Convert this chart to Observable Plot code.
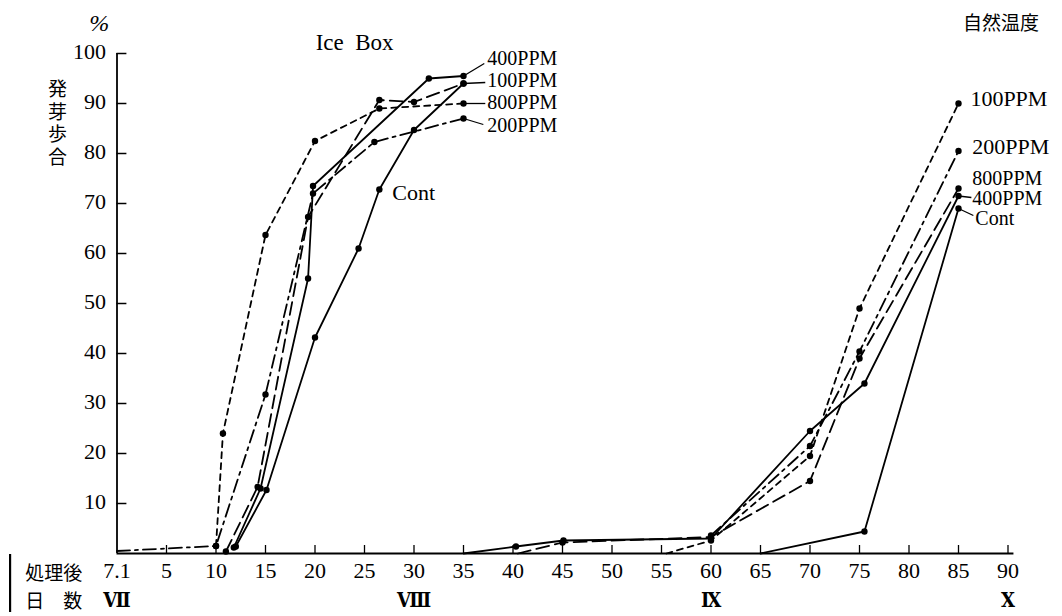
<!DOCTYPE html>
<html>
<head>
<meta charset="utf-8">
<script src="https://cdn.jsdelivr.net/npm/d3@7"></script>
<script src="https://cdn.jsdelivr.net/npm/@observablehq/plot@0.6"></script>
<style>
  body { margin: 0; background: #fff; }
  #chart svg { display: block; }
</style>
</head>
<body>
<div id="chart"></div>
<script>
// ---- data: [day after treatment, germination %] ----
// Ice Box
const ice400  = [[11.8,1.2],[14.5,13],[19.3,55],[19.8,73.5],[31.5,95],[35,95.5]];
const ice100  = [[11,0.4],[14.2,13.3],[19.3,67.3],[26.5,90.7],[30,90.3],[35,94]];
const ice800  = [[10,1.5],[10.7,24],[15,63.7],[20,82.5],[26.5,89],[35,90]];
const ice200  = [[0,0.5],[10,1.5],[15,31.8],[19.8,72],[26,82.3],[35,87]];
const iceCont = [[12,1.4],[15.1,12.7],[20,43.2],[24.4,61],[26.5,72.8],[30,84.7],[35,94]];
// 自然温度
const nat100  = [[55.5,0],[60,2.6],[70,19.5],[75,49],[85,90]];
const nat200  = [[60,3.6],[70,21.5],[75,40.4],[85,80.5]];
const nat800  = [[40.5,0],[45,2.2],[60,3.3],[70,14.5],[75,39],[85,73]];
const nat400  = [[35,0],[40.3,1.4],[45.1,2.6],[60,3],[70,24.5],[75.5,34],[85,71.5]];
const natCont = [[65,0],[75.5,4.4],[85,69]];

const seriesList = [ice400, ice100, ice800, ice200, iceCont, nat100, nat200, nat800, nat400, natCont];
const seriesNames = ["400PPM","100PPM","800PPM","200PPM","Cont","100PPM","200PPM","800PPM","400PPM","Cont"];
// label anchor [day, %] and leader end
const labelAt = [[37.4,99],[37.4,94.6],[37.4,90.2],[37.4,85.6],[27.8,72.2],[86.2,91],[86.4,81.4],[86.4,75],[86.4,71],[86.7,67]];
const labelSize = [20,20,20,20,22,22,22,20,20,20];
const leaderTo = [[37.1,98],[37.2,94.2],[37.2,90],[37,85.8],null,null,null,null,[86.3,71.2],[86.5,67.6]];

const xTicks = d3.range(0, 91, 5);
const xTickLabels = xTicks.map(d => d === 0 ? "7.1" : String(d));
const yTicks = d3.range(10, 101, 10);
const yTickLabels = yTicks.map(String);
const monthTicks = [0, 30, 60, 90];
const monthLabels = ["Ⅶ", "Ⅷ", "Ⅸ", "Ⅹ"];
const yTitle = "発芽歩合";

// styles
const dashes = [null, "13,6", "6,5", "13,5,3,5", null, "6,5", "13,5,3,5", "13,6", null, null];
const serif = "'Liberation Serif', 'Times New Roman', serif";
const cjk = "'Noto Sans CJK JP', sans-serif";

const lineMarks = [];
seriesList.forEach((s, i) => {
  const data = s.map(([day, v]) => ({day, v}));
  lineMarks.push(Plot.line(data, {x: "day", y: "v", stroke: "black", strokeWidth: 1.8,
    strokeDasharray: dashes[i] || undefined}));
  lineMarks.push(Plot.dot(data.filter(d => d.day > 0 && d.v > 0), {x: "day", y: "v", r: 3.2, fill: "black"}));
  lineMarks.push(Plot.text([seriesNames[i]], {x: labelAt[i][0], y: labelAt[i][1], text: d => d,
    textAnchor: "start", fontSize: labelSize[i], fontFamily: serif}));
  if (leaderTo[i]) {
    const last = s[s.length - 1];
    lineMarks.push(Plot.link([0], {x1: last[0], y1: last[1], x2: leaderTo[i][0], y2: leaderTo[i][1],
      stroke: "black", strokeWidth: 1.3}));
  }
});

const chart = Plot.plot({
  width: 1062,
  height: 616,
  marginLeft: 116.5,
  marginRight: 54.5,
  marginTop: 53,
  marginBottom: 63,
  x: {domain: [0, 90], axis: null},
  y: {domain: [0, 100], axis: null},
  style: {fontFamily: serif, fontSize: "22px", color: "black", background: "white"},
  marks: [
    // axes lines and inward ticks
    Plot.ruleX([0], {y1: 0, y2: 100, stroke: "black", strokeWidth: 1.8}),
    Plot.ruleY([0], {x1: 0, x2: 90.6, stroke: "black", strokeWidth: 1.8}),
    Plot.ruleY(yTicks, {x1: 0, x2: 1, stroke: "black", strokeWidth: 1.5}),
    Plot.ruleX(xTicks.slice(1), {y1: 0, y2: 1.6, stroke: "black", strokeWidth: 1.3}),
    // tick labels (serif)
    Plot.text(yTicks, {y: d => d, frameAnchor: "left", dx: -11, dy: -2, textAnchor: "end", text: (d, i) => yTickLabels[i],
      fontSize: 22, fontFamily: serif}),
    Plot.text(xTicks, {x: d => d, frameAnchor: "bottom", dy: 24, text: (d, i) => xTickLabels[i],
      fontSize: 22, fontFamily: serif}),
    // month row (Roman numerals) under the day ticks
    Plot.text(monthTicks, {x: d => d, frameAnchor: "bottom", dy: 53, text: (d, i) => monthLabels[i],
      fontSize: 20, fontWeight: "bold", fontFamily: "'DejaVu Serif Condensed', 'DejaVu Serif', serif"}),
    ...lineMarks,
    // titles and axis captions
    Plot.text(["Ice  Box"], {x: 24, y: 102.2, text: d => d, fontSize: 23, fontFamily: serif, style: "letter-spacing:2px"}),
    Plot.text(["自然温度"], {x: 89.3, y: 106, text: d => d, fontSize: 19, fontFamily: cjk}),
    Plot.text(["%"], {x: -1.8, y: 106, text: d => d, fontSize: 24, fontStyle: "italic", fontFamily: serif}),
    Plot.text([yTitle], {x: -6.0, y: 87, text: d => d, fontSize: 19, fontFamily: cjk}),
    Plot.text(["処理後"], {x: -6.4, y: -4.1, text: d => d, fontSize: 19, fontFamily: cjk}),
    Plot.text(["日　数"], {x: -6.4, y: -9.6, text: d => d, fontSize: 19, fontFamily: cjk}),
    Plot.ruleX([-10.8], {y1: -0.2, y2: -11.8, stroke: "black", strokeWidth: 2.2})
  ]
});

// vertical y title
d3.select(chart).selectAll("text").each(function () {
  if (this.textContent === yTitle) {
    this.removeAttribute("dy");
    this.style.writingMode = "vertical-rl";
    this.style.textOrientation = "upright";
    this.style.letterSpacing = "3.5px";
  }
});
document.getElementById("chart").appendChild(chart);
</script>
</body>
</html>
